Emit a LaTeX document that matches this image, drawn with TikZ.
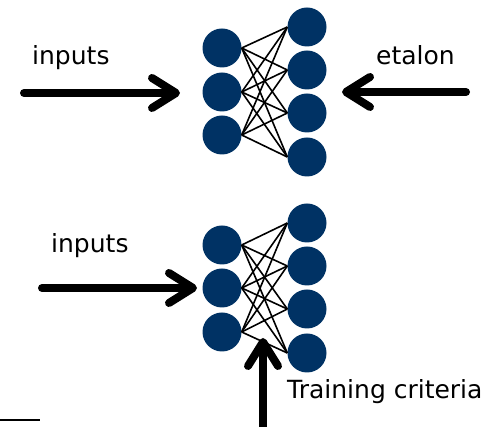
\documentclass[tikz,border=0pt]{standalone}
\usepackage{fontspec}
\setmainfont{DejaVu Sans}
\usetikzlibrary{arrows.meta}
\definecolor{navy}{RGB}{0,50,100}
\tikzset{
  neuron/.style={circle,fill=navy,draw=none,minimum size=39pt,inner sep=0pt},
  wire/.style={line width=1.6pt,black},
  bigarrow/.style={line width=8pt,line cap=round,-{Straight Barb[length=24pt,width=30pt,round]}},
  lbl/.style={font=\fontsize{25}{30}\selectfont,anchor=base west,inner sep=0pt}
}
\begin{document}
\begin{tikzpicture}[x=1pt,y=-1pt]
\useasboundingbox (0,0) rectangle (496,427);
% top network
\node[neuron] (a1) at (222,48) {};
\node[neuron] (a2) at (222,92) {};
\node[neuron] (a3) at (222,135) {};
\node[neuron] (b1) at (307,27) {};
\node[neuron] (b2) at (307,70) {};
\node[neuron] (b3) at (307,113) {};
\node[neuron] (b4) at (307,157) {};
\foreach \i in {1,2,3}{\foreach \j in {1,2,3,4}{\draw[wire] (a\i.east) -- (b\j.west);}}
% bottom network
\node[neuron] (c1) at (222,245) {};
\node[neuron] (c2) at (222,288) {};
\node[neuron] (c3) at (222,332) {};
\node[neuron] (d1) at (307,223) {};
\node[neuron] (d2) at (307,266) {};
\node[neuron] (d3) at (307,309) {};
\node[neuron] (d4) at (307,353) {};
\foreach \i in {1,2,3}{\foreach \j in {1,2,3,4}{\draw[wire] (c\i.east) -- (d\j.west);}}
% labels
\node[lbl] (t1) at (32,65) {inputs};
\node[lbl] (t2) at (376,65) {etalon};
\node[lbl] (t3) at (51,253) {inputs};
\node[lbl] (t4) at (287,399) {Training criteria};
% arrows
\coordinate (p1s) at (24,93);
\coordinate (p1e) at (180,93);
\coordinate (p2s) at (466,92);
\coordinate (p2e) at (342,92);
\coordinate (p3s) at (42,288);
\coordinate (p3e) at (197,288);
\coordinate (p4s) at (263,430);
\coordinate (p4e) at (263,338);
\draw[bigarrow] (p1s) -- (p1e);
\draw[bigarrow] (p2s) -- (p2e);
\draw[bigarrow] (p3s) -- (p3e);
\draw[bigarrow,line cap=butt] (p4s) -- (p4e);
% small line bottom-left
\coordinate (q1) at (0,420);
\coordinate (q2) at (40,420);
\draw[line width=2pt] (q1) -- (q2);
\end{tikzpicture}
\end{document}
